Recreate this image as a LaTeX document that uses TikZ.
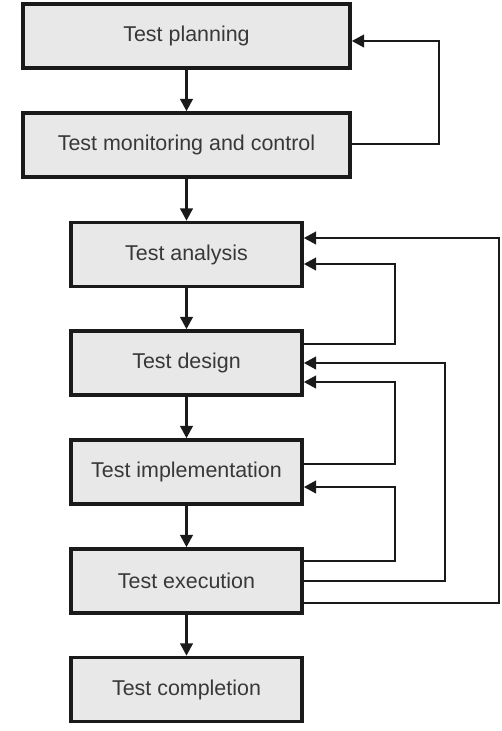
\documentclass[tikz,border=0pt]{standalone}
\usepackage{fontspec}
\setmainfont{Liberation Sans}
\usepackage{tikz}
\usetikzlibrary{arrows.meta}
\definecolor{boxgray}{HTML}{E8E8E8}
\definecolor{txtgray}{HTML}{383838}
\definecolor{linegray}{HTML}{1A1A1A}

\begin{document}
\begin{tikzpicture}[x=0.02cm, y=-0.02cm,
    stage/.style={draw=linegray, line width=2pt, fill=boxgray, text=txtgray,
                  minimum width=4.62cm, minimum height=1.28cm, inner sep=0pt,
                  font=\fontsize{12.2}{14}\selectfont},
    wide/.style={stage, minimum width=6.54cm},
    flow/.style={draw=linegray, line width=1.6pt, -{Triangle[length=7pt,width=7pt]}},
    fb/.style={flow, rounded corners=0pt}]
          \useasboundingbox (0,0) rectangle (502,731);

          \node[wide] (plan) at (186.5,36)  {Test planning};
          \node[wide] (mon)  at (186.5,145) {Test monitoring and control};
          \node[stage] (ana) at (186.5,254.5) {Test analysis};
          \node[stage] (des) at (186.5,363) {Test design};
          \node[stage] (imp) at (186.5,472) {Test implementation};
          \node[stage] (exe) at (186.5,581) {Test execution};
          \node[stage] (com) at (186.5,689.5) {Test completion};

          \draw[flow] (plan) -- (mon);
          \draw[flow] (mon) -- (ana);
          \draw[flow] (ana) -- (des);
          \draw[flow] (des) -- (imp);
          \draw[flow] (imp) -- (exe);
          \draw[flow] (exe) -- (com);

          \draw[fb] (mon.east |- 0,144) -- (439,144) -- (439,41) -- (plan.east |- 0,41);
          \draw[fb] (des.east |- 0,344) -- (395,344) -- (395,264) -- (ana.east |- 0,264);
          \draw[fb] (imp.east |- 0,464) -- (395,464) -- (395,382) -- (des.east |- 0,382);
          \draw[fb] (exe.east |- 0,561) -- (395,561) -- (395,487) -- (imp.east |- 0,487);
          \draw[fb] (exe.east |- 0,581) -- (445,581) -- (445,363) -- (des.east |- 0,363);
          \draw[fb] (exe.east |- 0,603) -- (499,603) -- (499,238) -- (ana.east |- 0,238);
        \end{tikzpicture}
\end{document}
